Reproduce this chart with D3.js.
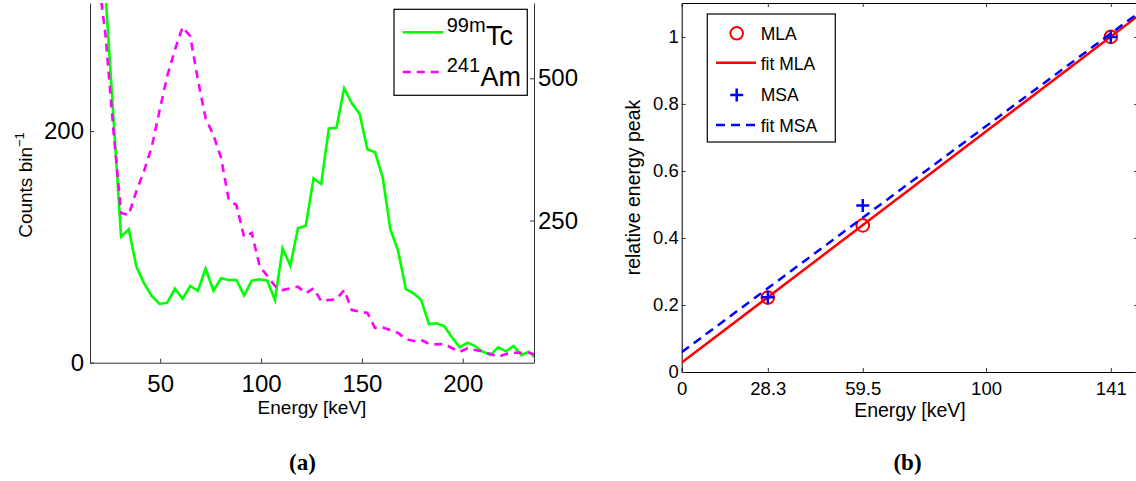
<!DOCTYPE html>
<html><head><meta charset="utf-8">
<script src="https://cdn.jsdelivr.net/npm/d3@7"></script>
<style>body{margin:0;background:#fff} svg{display:block} text{font-family:'Liberation Sans',Arial,sans-serif;fill:#000}</style>
</head><body>
<svg id="c" width="1136" height="481"></svg>
<script>
// ---------- panel (a) data ----------
const energyKeV = [19.1, 22.9, 26.8, 30.6, 34.4, 38.2, 42.0, 45.8, 49.7, 53.5, 57.3, 61.1, 64.9, 68.7, 72.5, 76.4, 80.2, 84.0, 87.8, 91.6, 95.4, 99.3, 103.1, 106.9, 110.7, 114.5, 118.3, 122.2, 126.0, 129.8, 133.6, 137.4, 141.2, 145.0, 148.9, 152.7, 156.5, 160.3, 164.1, 167.9, 171.8, 175.6, 179.4, 183.2, 187.0, 190.8, 194.6, 198.5, 202.3, 206.1, 209.9, 213.7, 217.5, 221.4, 225.2, 229.0, 232.8, 236.6];
const tcCounts = [420, 318, 213, 108.8, 115.1, 83.0, 68.5, 57.6, 50.7, 51.8, 63.9, 55.2, 66.2, 62.1, 81.1, 62.1, 72.9, 71.4, 71.4, 58.2, 70.8, 72.0, 70.8, 54.1, 98.7, 83.7, 116.0, 118.3, 159.2, 154.3, 202.3, 202.8, 236.9, 223.9, 214.7, 184.2, 181.6, 160.0, 115.1, 96.7, 63.4, 59.9, 54.1, 33.4, 34.0, 31.7, 21.9, 13.3, 17.3, 14.4, 9.5, 6.6, 13.3, 9.8, 14.4, 6.6, 9.5, 3.2];
const amCounts = [683, 576, 409, 263, 259.7, 302, 337, 379, 444, 504, 550, 590, 574, 497, 430, 400, 360, 286, 277, 221, 228, 170, 152.4, 134.8, 127.6, 130.8, 133.6, 122, 130.8, 108.5, 110.2, 111.5, 127.8, 92.6, 89.7, 87.4, 61, 61.9, 57.5, 52.2, 41.7, 38.1, 39.9, 32.9, 32.3, 32.9, 25.8, 19.3, 25.3, 22.3, 19.7, 15.3, 10.5, 15.3, 17.6, 17.6, 17.6, 13.5];
const aXTicks = [50, 100, 150, 200];
const aLeftTicks = [0, 200];
const aRightTicks = [250, 500];

// ---------- panel (b) data ----------
const peakEnergies = [28.3, 59.5, 141];
const mlaPeak = [0.222, 0.4375, 1.0];
const msaPeak = [0.223, 0.497, 1.0];
const fitMlaX = [0, 150], fitMlaY = [0.028, 1.063];
const fitMsaX = [0, 150], fitMsaY = [0.059, 1.071];
const bXTicks = [0, 28.3, 59.5, 100, 141];
const bYTicks = [0, 0.2, 0.4, 0.6, 0.8, 1];

const svg = d3.select('#c');
const GREEN = '#00ff00', MAG = '#ff00ff', RED = '#ff0000', BLUE = '#0000ff';
const SERIF = "'Liberation Serif','Times New Roman',serif";

// ================= Panel (a) =================
const aL = 90, aR = 534, aT = 3, aB = 362.7;
const xA = d3.scaleLinear().domain([15.2, 235.3]).range([aL, aR]);
const yA = d3.scaleLinear().domain([0, 310.5]).range([aB, aT]);
const yA2 = d3.scaleLinear().domain([0, 632.4]).range([aB, aT]);

svg.append('clipPath').attr('id', 'clipA').append('rect')
  .attr('x', aL).attr('y', aT).attr('width', aR - aL).attr('height', aB - aT);

const gA = svg.append('g');
const lineTc = d3.line().x((d, i) => xA(energyKeV[i])).y(d => yA(d));
const lineAm = d3.line().x((d, i) => xA(energyKeV[i])).y(d => yA2(d));
gA.append('path').datum(tcCounts).attr('d', lineTc).attr('clip-path', 'url(#clipA)')
  .attr('fill', 'none').attr('stroke', GREEN).attr('stroke-width', 2.6).attr('stroke-linejoin', 'miter');
gA.append('path').datum(amCounts).attr('d', lineAm).attr('clip-path', 'url(#clipA)')
  .attr('fill', 'none').attr('stroke', MAG).attr('stroke-width', 2.6).attr('stroke-dasharray', '8,6');

function styleAxis(g, fs) {
  g.select('.domain').attr('stroke', '#333').attr('stroke-width', 1);
  g.selectAll('.tick line').attr('stroke', '#333').attr('stroke-width', 1);
  g.selectAll('.tick text').attr('font-size', fs).attr('fill', '#000');
  g.attr('font-family', null);
}

const axAB = svg.append('g').attr('transform', `translate(0,${aB})`)
  .call(d3.axisBottom(xA).tickValues(aXTicks).tickSizeInner(-4).tickSizeOuter(0).tickPadding(12.5));
styleAxis(axAB, 24);
const axAL = svg.append('g').attr('transform', `translate(${aL},0)`)
  .call(d3.axisLeft(yA).tickValues(aLeftTicks).tickSizeInner(-4).tickSizeOuter(0).tickPadding(6));
styleAxis(axAL, 24);
const axAR = svg.append('g').attr('transform', `translate(${aR},0)`)
  .call(d3.axisRight(yA2).tickValues(aRightTicks).tickSizeInner(-4).tickSizeOuter(0).tickPadding(4));
styleAxis(axAR, 24);

svg.append('text').attr('x', (aL + aR) / 2).attr('y', 413.5).attr('text-anchor', 'middle')
  .attr('font-size', 19).text('Energy [keV]');
const yl = svg.append('text').attr('transform', 'translate(31.5,185) rotate(-90)')
  .attr('text-anchor', 'middle').attr('font-size', 19);
yl.append('tspan').text('Counts bin');
yl.append('tspan').attr('font-size', 13).attr('dy', -8).text('−1');

// legend (a)
const lgA = svg.append('g');
lgA.append('rect').attr('x', 394).attr('y', 9.3).attr('width', 133.3).attr('height', 86)
  .attr('fill', '#fff').attr('stroke', '#000').attr('stroke-width', 1.2);
lgA.append('line').attr('x1', 402.7).attr('x2', 443.3).attr('y1', 32.3).attr('y2', 32.3)
  .attr('stroke', GREEN).attr('stroke-width', 2.6);
lgA.append('line').attr('x1', 402.7).attr('x2', 443.3).attr('y1', 72).attr('y2', 72)
  .attr('stroke', MAG).attr('stroke-width', 2.6).attr('stroke-dasharray', '8,6');
const legNames = [['99m', 'Tc', 31.7, 45], ['241', 'Am', 71.7, 86]];
legNames.forEach(([sup, base, ys, yb]) => {
  const t = lgA.append('text').attr('x', 446.7).attr('y', ys).attr('font-size', 20).text(sup);
  const w = t.node().getComputedTextLength();
  lgA.append('text').attr('x', 446.7 + w + 0.5).attr('y', yb).attr('font-size', 27).text(base);
});

svg.append('text').attr('x', 302.5).attr('y', 470).attr('text-anchor', 'middle')
  .style('font-family', SERIF).attr('font-weight', 'bold')
  .attr('font-size', 23).text('(a)');

// ================= Panel (b) =================
const bL = 681.7, bR = 1138.2, bT = 3, bB = 372;
const xB = d3.scaleLinear().domain([0, 150]).range([bL, bR]);
const yB = d3.scaleLinear().domain([0, 1.1]).range([bB, bT + 0.4]);

const axBB = svg.append('g').attr('transform', `translate(0,${bB})`)
  .call(d3.axisBottom(xB).tickValues(bXTicks).tickFormat(d => String(d)).tickSizeInner(-4).tickSizeOuter(0).tickPadding(10));
styleAxis(axBB, 18.5);
const axBT = svg.append('g').attr('transform', `translate(0,${bT})`)
  .call(d3.axisTop(xB).tickValues(bXTicks).tickFormat('').tickSizeInner(-4).tickSizeOuter(0));
styleAxis(axBT, 18.5);
const axBL = svg.append('g').attr('transform', `translate(${bL},0)`)
  .call(d3.axisLeft(yB).tickValues(bYTicks).tickFormat(d => String(d)).tickSizeInner(-4).tickSizeOuter(0).tickPadding(3));
styleAxis(axBL, 18.5);
const axBR = svg.append('g').attr('transform', `translate(${bR},0)`)
  .call(d3.axisRight(yB).tickValues(bYTicks).tickFormat('').tickSizeInner(-4).tickSizeOuter(0));
styleAxis(axBR, 18.5);
[axBB, axBT, axBL, axBR].forEach(g => g.select('.domain').attr('stroke', '#000'));

svg.append('clipPath').attr('id', 'clipB').append('rect')
  .attr('x', bL).attr('y', bT).attr('width', bR - bL).attr('height', bB - bT);
const gB = svg.append('g').attr('clip-path', 'url(#clipB)');
const fitLine = d3.line().x(d => xB(d[0])).y(d => yB(d[1]));

// MLA markers
gB.selectAll('circle.mla').data(peakEnergies.map((e, i) => [e, mlaPeak[i]])).join('circle')
  .attr('cx', d => xB(d[0])).attr('cy', d => yB(d[1])).attr('r', 6.3)
  .attr('fill', 'none').attr('stroke', RED).attr('stroke-width', 2);
gB.append('path').datum(fitMlaX.map((x, i) => [x, fitMlaY[i]])).attr('d', fitLine)
  .attr('fill', 'none').attr('stroke', RED).attr('stroke-width', 2.5);
const plus = (g, cx, cy, s) => {
  g.append('line').attr('x1', cx - s).attr('x2', cx + s).attr('y1', cy).attr('y2', cy).attr('stroke', BLUE).attr('stroke-width', 2.5);
  g.append('line').attr('x1', cx).attr('x2', cx).attr('y1', cy - s).attr('y2', cy + s).attr('stroke', BLUE).attr('stroke-width', 2.5);
};
peakEnergies.forEach((e, i) => plus(gB, xB(e), yB(msaPeak[i]), 6.5));
gB.append('path').datum(fitMsaX.map((x, i) => [x, fitMsaY[i]])).attr('d', fitLine)
  .attr('fill', 'none').attr('stroke', BLUE).attr('stroke-width', 2.5).attr('stroke-dasharray', '9,6');

svg.append('text').attr('x', (bL + bR) / 2).attr('y', 416.7).attr('text-anchor', 'middle')
  .attr('font-size', 19.5).text('Energy [keV]');
svg.append('text').attr('transform', `translate(639.5,${(bT + bB) / 2}) rotate(-90)`)
  .attr('text-anchor', 'middle').attr('font-size', 19.5).text('relative energy peak');

// legend (b)
const lgB = svg.append('g');
lgB.append('rect').attr('x', 707.3).attr('y', 14).attr('width', 128).attr('height', 128)
  .attr('fill', '#fff').attr('stroke', '#000').attr('stroke-width', 1.2);
lgB.append('circle').attr('cx', 736.7).attr('cy', 33.3).attr('r', 6.3)
  .attr('fill', 'none').attr('stroke', RED).attr('stroke-width', 2);
lgB.append('line').attr('x1', 716).attr('x2', 756).attr('y1', 62.7).attr('y2', 62.7)
  .attr('stroke', RED).attr('stroke-width', 2.5);
plus(lgB, 736.7, 95, 6.5);
lgB.append('line').attr('x1', 716).attr('x2', 756).attr('y1', 125).attr('y2', 125)
  .attr('stroke', BLUE).attr('stroke-width', 2.5).attr('stroke-dasharray', '9,6');
[['MLA', 39.6], ['fit MLA', 69.8], ['MSA', 101.2], ['fit MSA', 131.6]].forEach(([t, y]) => {
  lgB.append('text').attr('x', 760.7).attr('y', y).attr('font-size', 17.5).text(t);
});

svg.append('text').attr('x', 907.5).attr('y', 470).attr('text-anchor', 'middle')
  .style('font-family', SERIF).attr('font-weight', 'bold')
  .attr('font-size', 23).text('(b)');
</script>
</body></html>
